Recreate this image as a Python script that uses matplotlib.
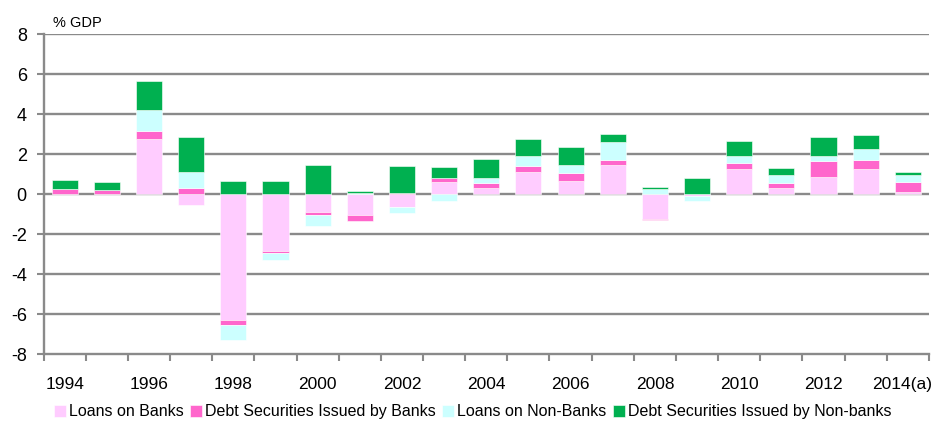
import matplotlib
matplotlib.use("Agg")
import matplotlib.pyplot as plt
import matplotlib.transforms as mtransforms
import numpy as np
from matplotlib.ticker import FixedLocator

plt.rcParams['font.family'] = ['Liberation Sans', 'DejaVu Sans']
plt.rcParams['axes.unicode_minus'] = False

years = [str(y) for y in range(1994, 2014)] + ["2014(a)"]
tick_labels = [y if i % 2 == 0 else "" for i, y in enumerate(years)]

loans_banks = [0.0, 0.0, 2.77, -0.53, -6.28, -2.83, -0.90, -1.03, -0.62, 0.60, 0.33,
               1.13, 0.67, 1.47, -1.25, -0.08, 1.25, 0.33, 0.87, 1.25, 0.10]
debt_banks = [0.27, 0.22, 0.41, 0.33, -0.25, -0.12, -0.12, -0.29, 0.05, 0.23, 0.22,
              0.27, 0.41, 0.25, -0.05, 0.0, 0.32, 0.25, 0.80, 0.47, 0.53]
loans_nonbanks = [0.0, 0.0, 1.02, 0.80, -0.75, -0.33, -0.55, 0.06, -0.33, -0.32, 0.25,
                  0.53, 0.39, 0.91, 0.27, -0.24, 0.33, 0.40, 0.23, 0.55, 0.35]
debt_nonbanks = [0.43, 0.38, 1.46, 1.73, 0.65, 0.65, 1.47, 0.11, 1.37, 0.52, 0.98,
                 0.84, 0.91, 0.39, 0.11, 0.80, 0.75, 0.32, 0.97, 0.70, 0.15]

series = [
    ("Loans on Banks", loans_banks, "#FFCCFF"),
    ("Debt Securities Issued by Banks", debt_banks, "#FF66CC"),
    ("Loans on Non-Banks", loans_nonbanks, "#CCFFFF"),
    ("Debt Securities Issued by Non-banks", debt_nonbanks, "#00B050"),
]

fig = plt.figure(figsize=(9.36, 4.21), dpi=100)
ax = fig.add_axes([0.0465, 0.158, 0.946, 0.761])

x = np.arange(len(years))
pos_base = np.zeros(len(years))
neg_base = np.zeros(len(years))
for name, vals, color in series:
    v = np.array(vals)
    bottoms = np.where(v >= 0, pos_base, neg_base)
    ax.bar(x, v, bottom=bottoms, width=0.62, color=color, label=name,
           edgecolor="white", linewidth=0.4, zorder=3)
    pos_base += np.where(v >= 0, v, 0)
    neg_base += np.where(v < 0, v, 0)

grid_color = "#8A8A8A"
ax.set_ylim(-8, 8)
ax.set_yticks(range(-8, 9, 2))
ax.set_xlim(-0.5, len(years) - 0.5)
for yv in range(-6, 9, 2):
    ax.axhline(yv, color=grid_color, linewidth=1.7, zorder=1)

ax.set_xticks(x)
ax.set_xticklabels(tick_labels)
ax.xaxis.set_minor_locator(FixedLocator(np.arange(-0.5, len(years), 1.0)))
ax.tick_params(axis="x", which="major", length=0, pad=16, labelsize=12.5)
ax.tick_params(axis="x", which="minor", length=5, width=1.5, color=grid_color, direction="out")
ax.tick_params(axis="y", length=5, width=1.5, color=grid_color, pad=7, labelsize=13)

# nudge the last year label inward so it stays inside the figure
shift = mtransforms.ScaledTranslation(-6 / 100, 0, fig.dpi_scale_trans)
for lbl in ax.get_xticklabels():
    if lbl.get_text() == "2014(a)":
        lbl.set_transform(lbl.get_transform() + shift)

for s in ["top", "right"]:
    ax.spines[s].set_visible(False)
for s in ["left", "bottom"]:
    ax.spines[s].set_color(grid_color)
    ax.spines[s].set_linewidth(1.7)

fig.text(0.057, 0.936, "% GDP", fontsize=10.5, ha="left", va="baseline")

leg = fig.legend(loc="center", bbox_to_anchor=(0.505, 0.022), ncol=4, frameon=False,
                 fontsize=11.5, handlelength=0.75, handleheight=0.75, handletextpad=0.2,
                 columnspacing=0.4)

fig.savefig("out.png", dpi=100)
